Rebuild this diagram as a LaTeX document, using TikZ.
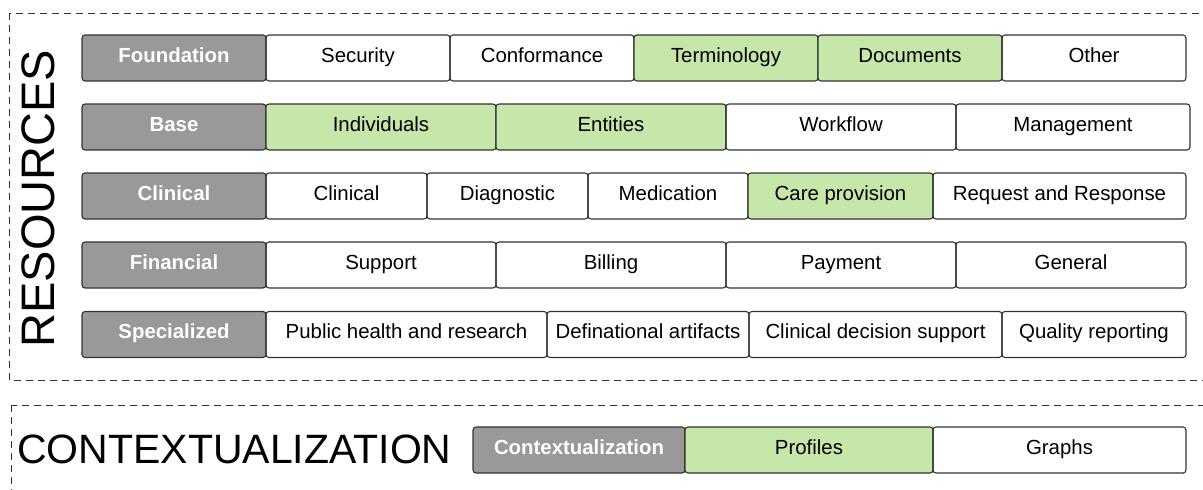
\documentclass[tikz,border=0pt]{standalone}
\usepackage{fontspec}
\setmainfont{Liberation Sans}
\usetikzlibrary{positioning,calc}
\definecolor{headgray}{HTML}{999999}
\definecolor{leafgreen}{HTML}{C6E6AA}
\definecolor{edgegray}{HTML}{333333}

\begin{document}
\begin{tikzpicture}[x=1pt,y=-1pt,
    cell/.style={draw=edgegray, line width=1.1pt, rounded corners=3pt, minimum height=46pt,
      inner sep=0pt, text height=14pt, text depth=6pt, font=\fontsize{20.4}{24}\selectfont},
    head/.style={cell, fill=headgray, text=white, font=\fontsize{20.4}{24}\selectfont\bfseries},
    used/.style={cell, fill=leafgreen},
    frame/.style={draw=edgegray, line width=1pt, dash pattern=on 7pt off 5pt}]

    \clip (0,0) rectangle (1203,490);

    % dashed frames
    \draw [frame] (9,13) rectangle (1215,380);
    \draw [frame] (11,405) rectangle (1215,500);

    \node [rotate=90, inner sep=0pt, font=\fontsize{47}{50}\selectfont] (resources) at (38,198.5) {RESOURCES};
    \node [anchor=west, inner sep=0pt, font=\fontsize{41}{46}\selectfont] (context) at (17,449) {CONTEXTUALIZATION};

    % row 1
    \node [head, minimum width=184pt] (foundation) at (174,58) {Foundation};
    \node [cell, minimum width=184pt] (security) at (358,58) {Security};
    \node [cell, minimum width=184pt] (conformance) at (542,58) {Conformance};
    \node [used, minimum width=184pt] (terminology) at (726,58) {Terminology};
    \node [used, minimum width=184pt] (documents) at (910,58) {Documents};
    \node [cell, minimum width=184pt] (other) at (1094,58) {Other};

    % row 2
    \node [head, minimum width=184pt] (base) at (174,127) {Base};
    \node [used, minimum width=230pt] (individuals) at (381,127) {Individuals};
    \node [used, minimum width=230pt] (entities) at (611,127) {Entities};
    \node [cell, minimum width=230pt] (workflow) at (841,127) {Workflow};
    \node [cell, minimum width=234pt] (management) at (1073,127) {Management};

    % row 3
    \node [head, minimum width=184pt] (clinicalhead) at (174,196) {Clinical};
    \node [cell, minimum width=161pt] (clinical) at (346.5,196) {Clinical};
    \node [cell, minimum width=161pt] (diagnostic) at (507.5,196) {Diagnostic};
    \node [cell, minimum width=160pt] (medication) at (668,196) {Medication};
    \node [used, minimum width=185pt] (care) at (840.5,196) {Care provision};
    \node [cell, minimum width=253pt] (request) at (1059.5,196) {Request and Response};

    % row 4
    \node [head, minimum width=184pt] (financial) at (174,265) {Financial};
    \node [cell, minimum width=230pt] (support) at (381,265) {Support};
    \node [cell, minimum width=230pt] (billing) at (611,265) {Billing};
    \node [cell, minimum width=230pt] (payment) at (841,265) {Payment};
    \node [cell, minimum width=230pt] (general) at (1071,265) {General};

    % row 5
    \node [head, minimum width=184pt] (specialized) at (174,334.5) {Specialized};
    \node [cell, minimum width=281pt] (public) at (406.5,334.5) {Public health and research};
    \node [cell, minimum width=202pt] (definational) at (648,334.5) {Definational artifacts};
    \node [cell, minimum width=253pt] (decision) at (875.5,334.5) {Clinical decision support};
    \node [cell, minimum width=184pt] (quality) at (1094,334.5) {Quality reporting};

    % contextualization row
    \node [head, minimum width=212pt] (contexthead) at (579,450) {Contextualization};
    \node [used, minimum width=248pt] (profiles) at (809,450) {Profiles};
    \node [cell, minimum width=253pt] (graphs) at (1059.5,450) {Graphs};
  \end{tikzpicture}
\end{document}
